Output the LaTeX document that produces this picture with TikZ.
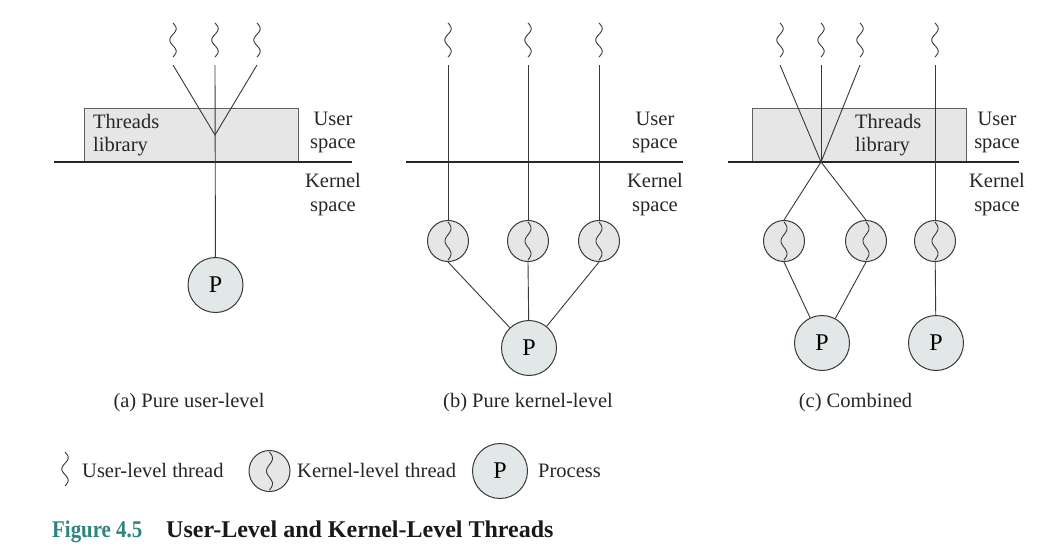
\documentclass[tikz,border=0pt]{standalone}
\usepackage{fontspec}
\setmainfont{Liberation Serif}
\definecolor{ink}{HTML}{383838}
\definecolor{boxfill}{HTML}{E6E6E6}
\definecolor{pfill}{HTML}{E2E8E8}
\definecolor{figteal}{HTML}{2E8580}
\begin{document}
\begin{tikzpicture}[x=1pt,y=-1pt,
  wire/.style={draw=ink, line width=0.9pt},
  sepline/.style={draw=black!85, line width=2.8pt},
  lib/.style={draw=ink!80, fill=boxfill, line width=1pt},
  kthread/.style={circle, draw=ink, fill=boxfill, line width=1pt, minimum size=41pt, inner sep=0pt},
  proc/.style={circle, draw=ink, fill=pfill, line width=1pt, minimum size=55pt, inner sep=0pt, font=\fontsize{24}{26}\selectfont},
  lbl/.style={font=\fontsize{20.5}{23.5}\selectfont, text=black!85, inner sep=0pt},
  usq/.pic={\draw[ink, line width=0.9pt] plot[domain=0:1, samples=40, smooth] ({3.2*sin(\x*540)}, {\x*34});},
  ksq/.pic={\draw[ink, line width=0.9pt] plot[domain=0:1, samples=40, smooth] ({3*sin(\x*540)}, {\x*38});},
]
\useasboundingbox[fill=white] (0,0) rectangle (1054,554);

% ---------- (a) Pure user-level ----------
\draw[lib] (84,108) rectangle (298,162);
\draw[sepline] (54,162) -- (352,162);
\node[lbl, align=left, anchor=north west] (liba) at (93,114) {Threads\\library};
\node[lbl, align=center, anchor=north] (usa) at (333,111.4) {User\\space};
\node[lbl, align=center, anchor=north] (ksa) at (333,173.4) {Kernel\\space};
\pic at (173,23) {usq};
\pic at (215,23) {usq};
\pic at (257,23) {usq};
\coordinate (ua1) at (173,65);
\coordinate (ua2) at (215,65);
\coordinate (ua3) at (257,65);
\coordinate (ja) at (215,135);
\node[proc] (Pa) at (215.5,285) {P};
\draw[wire] (ua1) -- (ja) -- (ua3);
\draw[wire] (ua2) -- (Pa);
\node[lbl, anchor=base] (capa) at (189,407) {(a) Pure user-level};

% ---------- (b) Pure kernel-level ----------
\draw[sepline] (406,162) -- (683,162);
\node[lbl, align=center, anchor=north] (usb) at (655,111.4) {User\\space};
\node[lbl, align=center, anchor=north] (ksb) at (655,173.4) {Kernel\\space};
\pic at (448,23) {usq};
\pic at (528,23) {usq};
\pic at (599,23) {usq};
\coordinate (ub1) at (448,65);
\coordinate (ub2) at (528,65);
\coordinate (ub3) at (599,65);
\node[kthread] (kb1) at (448,241) {};
\node[kthread] (kb2) at (528,241) {};
\node[kthread] (kb3) at (599,241) {};
\pic at ([yshift=19pt]kb1.center) {ksq};
\pic at ([yshift=19pt]kb2.center) {ksq};
\pic at ([yshift=19pt]kb3.center) {ksq};
\node[proc] (Pb) at (529,348) {P};
\draw[wire] (ub1) -- (kb1);
\draw[wire] (ub2) -- (kb2);
\draw[wire] (ub3) -- (kb3);
\draw[wire] (kb1.south) -- (Pb);
\draw[wire] (kb2.south) -- (Pb);
\draw[wire] (kb3.south) -- (Pb);
\node[lbl, anchor=base] (capb) at (528,407) {(b) Pure kernel-level};

% ---------- (c) Combined ----------
\draw[lib] (752,108) rectangle (966,162);
\draw[sepline] (728,162) -- (1019,162);
\node[lbl, align=left, anchor=north west] (libc) at (855,114) {Threads\\library};
\node[lbl, align=center, anchor=north] (usc) at (997,111.4) {User\\space};
\node[lbl, align=center, anchor=north] (ksc) at (997,173.4) {Kernel\\space};
\pic at (780,23) {usq};
\pic at (821,23) {usq};
\pic at (860,23) {usq};
\pic at (935,23) {usq};
\coordinate (uc1) at (780,65);
\coordinate (uc2) at (821,65);
\coordinate (uc3) at (860,65);
\coordinate (uc4) at (935,65);
\coordinate (xc) at (821,162);
\node[kthread] (kc1) at (784,241) {};
\node[kthread] (kc2) at (866,241) {};
\node[kthread] (kc3) at (935,241) {};
\pic at ([yshift=19pt]kc1.center) {ksq};
\pic at ([yshift=19pt]kc2.center) {ksq};
\pic at ([yshift=19pt]kc3.center) {ksq};
\node[proc] (Pc1) at (822,343) {P};
\node[proc] (Pc2) at (936,343) {P};
\draw[wire] (uc1) -- (xc);
\draw[wire] (uc2) -- (xc);
\draw[wire] (uc3) -- (xc);
\draw[wire] (xc) -- (kc1.north);
\draw[wire] (xc) -- (kc2.north);
\draw[wire] (uc4) -- (kc3);
\draw[wire] (kc1.south) -- (Pc1);
\draw[wire] (kc2.south) -- (Pc1);
\draw[wire] (kc3) -- (Pc2);
\node[lbl, anchor=base] (capc) at (855.5,407) {(c) Combined};

% ---------- Legend ----------
\pic at (65,452) {usq};
\node[lbl, anchor=base west] (lgu) at (82,477) {User-level thread};
\node[kthread] (lgk) at (269.5,471) {};
\pic at ([yshift=19pt]lgk.center) {ksq};
\node[lbl, anchor=base west] (lgkt) at (297,477) {Kernel-level thread};
\node[proc] (lgp) at (500,471) {P};
\node[lbl, anchor=base west] (lgpt) at (538,477) {Process};

% ---------- Figure caption ----------
\node[anchor=base west, inner sep=0pt, text=figteal, font=\fontsize{24}{26}\bfseries\selectfont] (fignum) at (52,537) {\scalebox{0.87}[1]{Figure 4.5}};
\node[anchor=base west, inner sep=0pt, text=black!90, font=\fontsize{24}{26}\bfseries\selectfont] (figtitle) at (166,537) {User-Level and Kernel-Level Threads};
\end{tikzpicture}
\end{document}
